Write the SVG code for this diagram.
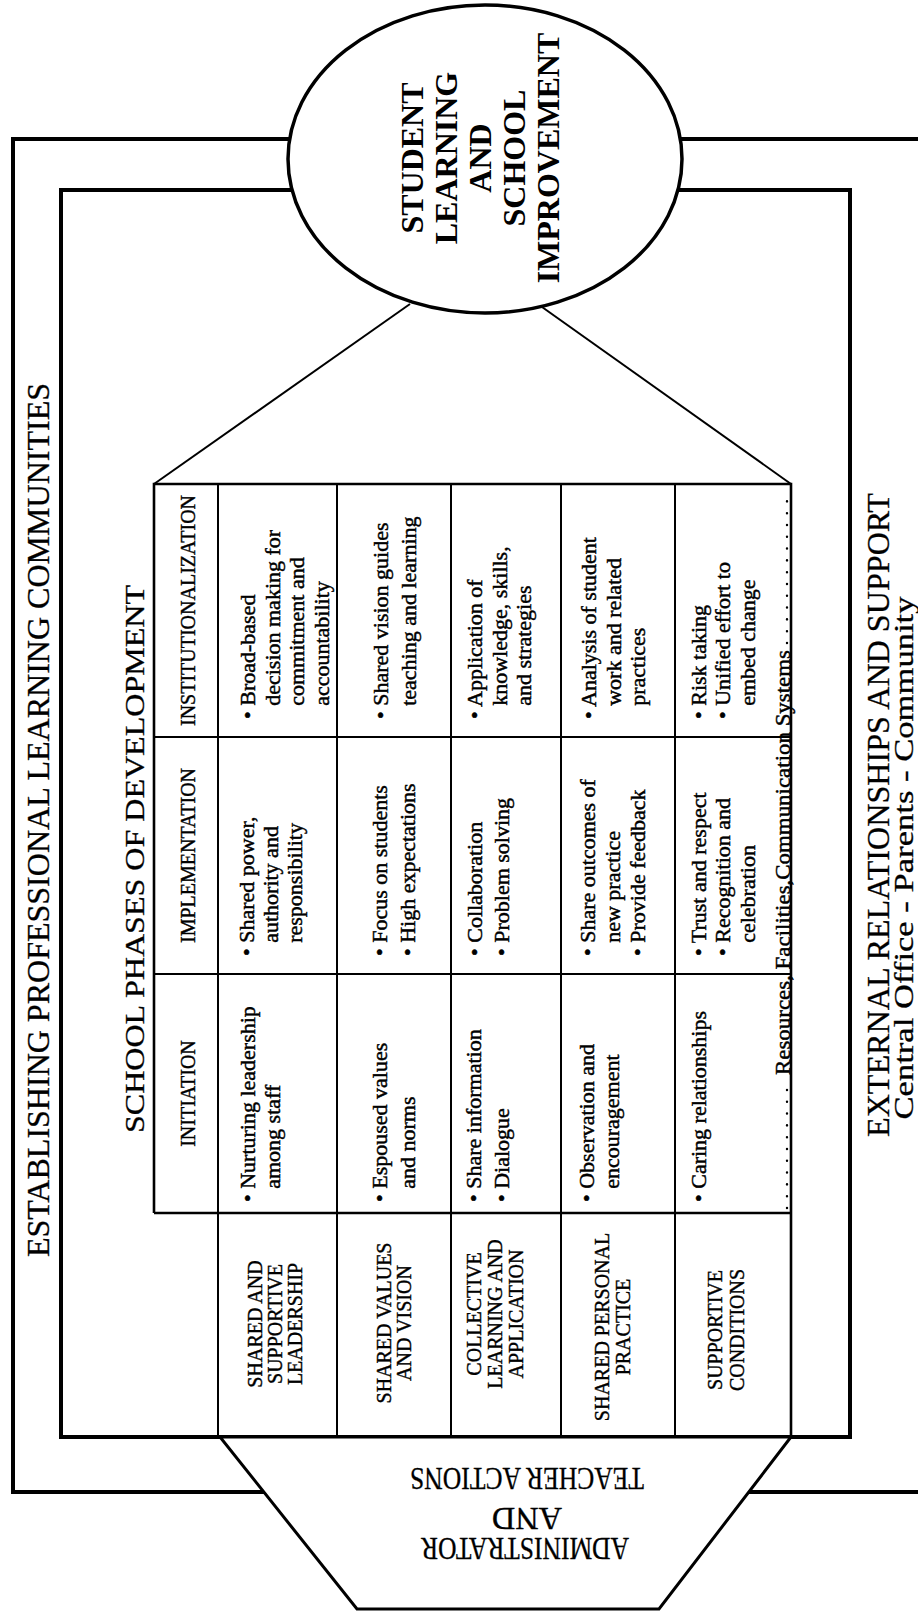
<svg xmlns="http://www.w3.org/2000/svg" width="918" height="1612" viewBox="0 0 918 1612">
<style>
text{font-family:"Liberation Serif","Times New Roman",serif;fill:#000}
.frame{fill:none;stroke:#000;stroke-width:4}
.tbl{fill:none;stroke:#000;stroke-width:2.6}
.div{fill:none;stroke:#000;stroke-width:2}
.conn{fill:none;stroke:#000;stroke-width:2}
.cell{font-size:22px;stroke:#000;stroke-width:0.45}
.hdr{font-size:20px;stroke:#000;stroke-width:0.4}
.lbl{font-size:20px;stroke:#000;stroke-width:0.4}
.big{font-size:31px;stroke:#000;stroke-width:0.3}
.core{font-size:32px;font-weight:bold}
.dots{fill:none;stroke:#000;stroke-width:2.4;stroke-linecap:round;stroke-dasharray:0.1 11.7}
</style>
<rect width="918" height="1612" fill="#fff"/>

<g id="outer-frame">
<path class="frame" d="M918 139 H13 V1492 H918"/>
<text class="big" transform="translate(49,820) rotate(-90)" text-anchor="middle" textLength="874" lengthAdjust="spacingAndGlyphs">ESTABLISHING PROFESSIONAL LEARNING COMMUNITIES</text>
<text class="big" transform="translate(889,815) rotate(-90)" text-anchor="middle" textLength="644" lengthAdjust="spacingAndGlyphs">EXTERNAL RELATIONSHIPS AND SUPPORT</text>
<text style="font-size:28px;stroke:#000;stroke-width:0.3" transform="translate(913,858) rotate(-90)" text-anchor="middle" textLength="523" lengthAdjust="spacingAndGlyphs">Central Office - Parents - Community</text>
</g>

<g id="inner-frame">
<rect class="frame" x="61" y="190" width="789" height="1247"/>
<text style="font-size:28px;stroke:#000;stroke-width:0.3" transform="translate(144,859) rotate(-90)" text-anchor="middle" textLength="548" lengthAdjust="spacingAndGlyphs">SCHOOL PHASES OF DEVELOPMENT</text>
</g>

<g id="connectors">
<line class="conn" x1="410" y1="304" x2="154" y2="484"/>
<line class="conn" x1="542" y1="307" x2="791" y2="484"/>
</g>

<g id="student-learning">
<ellipse cx="485" cy="159" rx="197" ry="154" fill="#fff" stroke="#000" stroke-width="3.5"/>
<g class="core" text-anchor="middle">
<text transform="translate(423,158) rotate(-90)">STUDENT</text>
<text transform="translate(457,158) rotate(-90)">LEARNING</text>
<text transform="translate(491,158) rotate(-90)">AND</text>
<text transform="translate(525,158) rotate(-90)">SCHOOL</text>
<text transform="translate(559,158) rotate(-90)">IMPROVEMENT</text>
</g>
</g>

<g id="actions">
<polygon points="220,1437 791,1437 659,1609 357,1609" fill="#fff" stroke="#000" stroke-width="3"/>
<g class="big" text-anchor="middle">
<text transform="translate(527,1468) rotate(180)" textLength="234" lengthAdjust="spacingAndGlyphs">TEACHER ACTIONS</text>
<text transform="translate(527,1508) rotate(180)" textLength="70" lengthAdjust="spacingAndGlyphs">AND</text>
<text transform="translate(525,1538) rotate(180)" textLength="208" lengthAdjust="spacingAndGlyphs">ADMINISTRATOR</text>
</g>
</g>

<g id="phase-table">
<path class="tbl" d="M154 1213 V484 H791 V1437"/>
<path class="tbl" d="M154 1213 H791"/>
<path class="div" d="M218 484 V1437 M337 484 V1437 M451 484 V1437 M561 484 V1437 M675 484 V1437 M154 737 H791 M154 974 H791"/>
<g class="hdr" text-anchor="middle">
<text transform="translate(194.5,610.5) rotate(-90)">INSTITUTIONALIZATION</text>
<text transform="translate(194.5,855.5) rotate(-90)">IMPLEMENTATION</text>
<text transform="translate(194.5,1093.5) rotate(-90)">INITIATION</text>
</g>
</g>

<g id="row-labels" class="lbl" text-anchor="middle">
<text transform="translate(261.6,1324) rotate(-90)">SHARED AND</text>
<text transform="translate(281.6,1324) rotate(-90)">SUPPORTIVE</text>
<text transform="translate(301.6,1324) rotate(-90)">LEADERSHIP</text>
<text transform="translate(390.6,1323) rotate(-90)">SHARED VALUES</text>
<text transform="translate(410.6,1323) rotate(-90)">AND VISION</text>
<text transform="translate(480.6,1314) rotate(-90)">COLLECTIVE</text>
<text transform="translate(501.6,1314) rotate(-90)">LEARNING AND</text>
<text transform="translate(522.6,1314) rotate(-90)">APPLICATION</text>
<text transform="translate(608.6,1327) rotate(-90)">SHARED PERSONAL</text>
<text transform="translate(629.6,1327) rotate(-90)">PRACTICE</text>
<text transform="translate(721.6,1330) rotate(-90)">SUPPORTIVE</text>
<text transform="translate(743.6,1330) rotate(-90)">CONDITIONS</text>
</g>

<g id="cells" class="cell">
<g id="leadership-inst" transform="translate(255,719) rotate(-90)"><text x="0" y="0">• Broad-based</text><text x="13.2" y="24.5">decision making for</text><text x="13.2" y="49">commitment and</text><text x="13.2" y="73.5">accountability</text></g>
<g id="leadership-impl" transform="translate(254,956) rotate(-90)"><text x="0" y="0">• Shared power,</text><text x="13.2" y="24">authority and</text><text x="13.2" y="48">responsibility</text></g>
<g id="leadership-init" transform="translate(255,1202) rotate(-90)"><text x="0" y="0">• Nurturing leadership</text><text x="13.2" y="25">among staff</text></g>

<g id="values-inst" transform="translate(388,719) rotate(-90)"><text x="0" y="0">• Shared vision guides</text><text x="13.2" y="28">teaching and learning</text></g>
<g id="values-impl" transform="translate(387,956) rotate(-90)"><text x="0" y="0">• Focus on students</text><text x="0" y="28">• High expectations</text></g>
<g id="values-init" transform="translate(387,1202) rotate(-90)"><text x="0" y="0">• Espoused values</text><text x="13.2" y="28">and norms</text></g>

<g id="collective-inst" transform="translate(482,719) rotate(-90)"><text x="0" y="0">• Application of</text><text x="13.2" y="24.5">knowledge, skills,</text><text x="13.2" y="49">and strategies</text></g>
<g id="collective-impl" transform="translate(482,956) rotate(-90)"><text x="0" y="0">• Collaboration</text><text x="0" y="27">• Problem solving</text></g>
<g id="collective-init" transform="translate(481,1202) rotate(-90)"><text x="0" y="0">• Share information</text><text x="0" y="28">• Dialogue</text></g>

<g id="practice-inst" transform="translate(596,719) rotate(-90)"><text x="0" y="0">• Analysis of student</text><text x="13.2" y="24.5">work and related</text><text x="13.2" y="49">practices</text></g>
<g id="practice-impl" transform="translate(595,956) rotate(-90)"><text x="0" y="0">• Share outcomes of</text><text x="13.2" y="25">new practice</text><text x="0" y="50">• Provide feedback</text></g>
<g id="practice-init" transform="translate(594,1202) rotate(-90)"><text x="0" y="0">• Observation and</text><text x="13.2" y="25">encouragement</text></g>

<g id="conditions-inst" transform="translate(706,719) rotate(-90)"><text x="0" y="0">• Risk taking</text><text x="0" y="24">• Unified effort to</text><text x="13.2" y="49">embed change</text></g>
<g id="conditions-impl" transform="translate(706,956) rotate(-90)"><text x="0" y="0">• Trust and respect</text><text x="0" y="24">• Recognition and</text><text x="13.2" y="49">celebration</text></g>
<g id="conditions-init" transform="translate(706,1202) rotate(-90)"><text x="0" y="0">• Caring relationships</text></g>
</g>

<g id="resources">
<path class="dots" d="M787 1208 V1083 M787 643 V490"/>
<text class="cell" transform="translate(789.5,1075) rotate(-90)" textLength="425" lengthAdjust="spacingAndGlyphs">Resources, Facilities,Communication Systems</text>
</g>
</svg>
